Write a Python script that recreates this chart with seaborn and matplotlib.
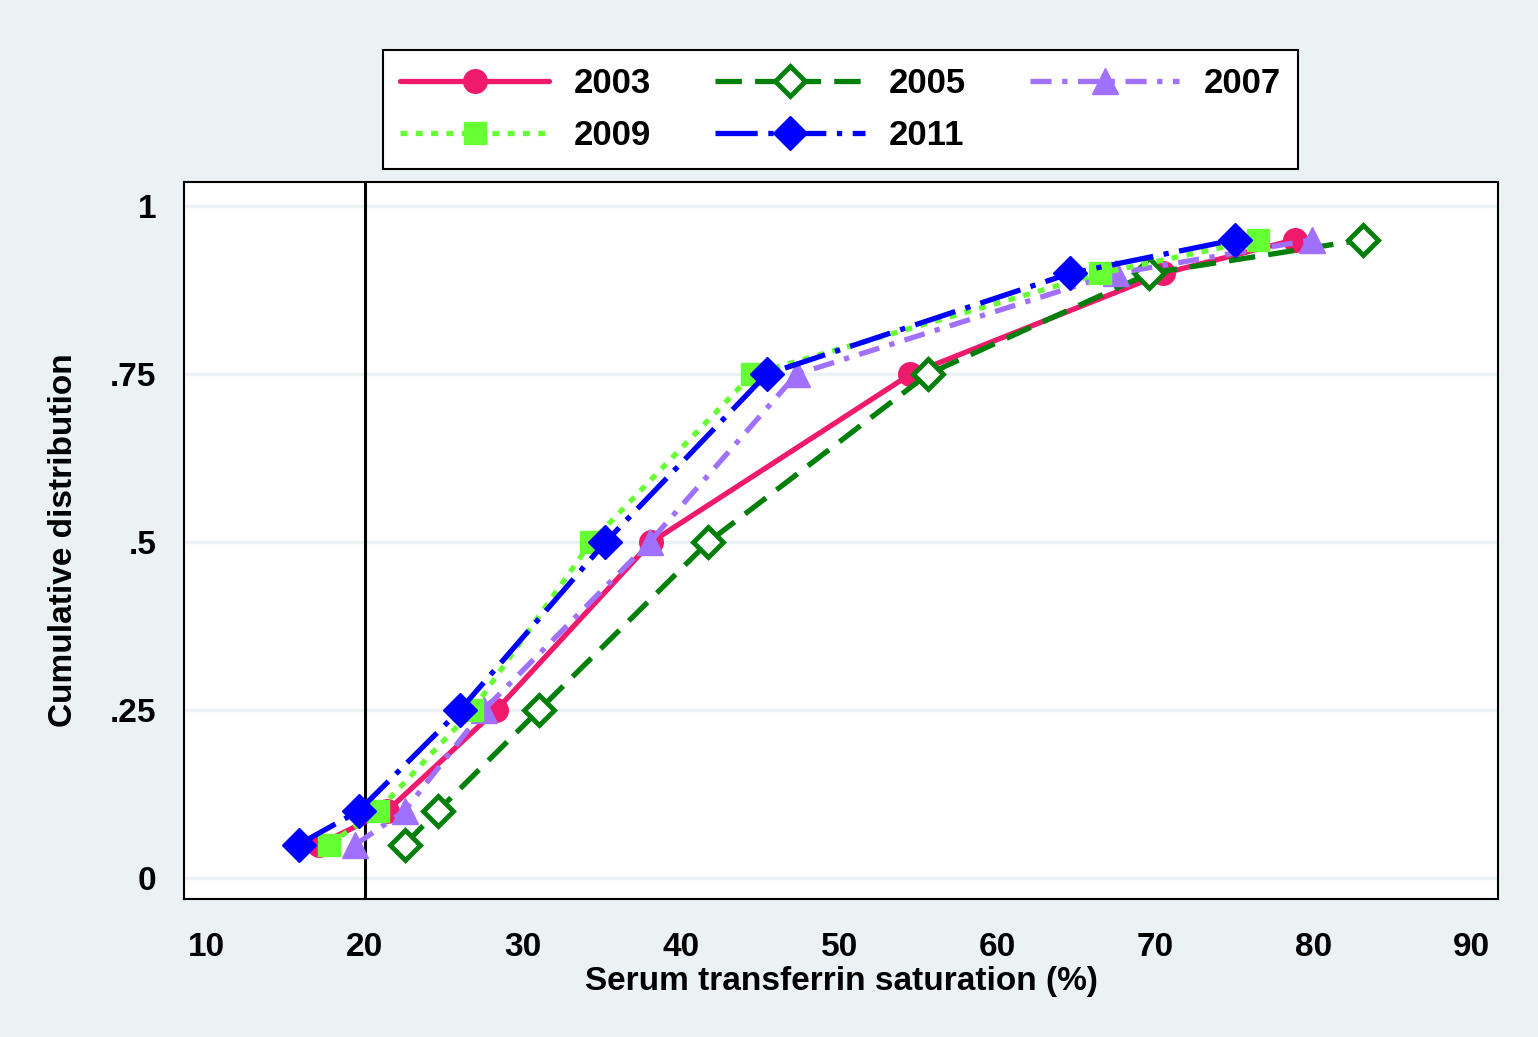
import matplotlib
matplotlib.use("Agg")
import matplotlib.pyplot as plt
import pandas as pd
import seaborn as sns

# quantile levels of the cumulative distribution
probs = [0.05, 0.10, 0.25, 0.50, 0.75, 0.90, 0.95]

# serum transferrin saturation (%) at each level, by survey year
sat_2003 = [17.1, 21.4, 28.3, 38.1, 54.5, 70.5, 78.8]
sat_2005 = [22.5, 24.6, 31.0, 41.7, 55.6, 69.6, 83.1]
sat_2007 = [19.4, 22.5, 27.5, 38.0, 47.3, 67.5, 79.9]
sat_2009 = [17.7, 20.8, 26.8, 34.3, 44.5, 66.5, 76.5]
sat_2011 = [15.8, 19.6, 26.0, 35.2, 45.4, 64.6, 75.0]

years = ["2003", "2005", "2007", "2009", "2011"]
series = [sat_2003, sat_2005, sat_2007, sat_2009, sat_2011]

styles = {
    "2003": dict(color="#F01A6C", marker="o", ms=17, dashes=(None, None), mfc="#F01A6C"),
    "2005": dict(color="#00800A", marker="D", ms=15, dashes=(5, 2.5), mfc="white", mew=3.5),
    "2007": dict(color="#A070FF", marker="^", ms=19, dashes=(4, 2, 1, 2), mfc="#A070FF"),
    "2009": dict(color="#66FF33", marker="s", ms=16, dashes=(1.3, 1.6), mfc="#66FF33"),
    "2011": dict(color="#0000FF", marker="D", ms=17, dashes=(8, 2, 1, 2), mfc="#0000FF"),
}

df = pd.concat(
    [pd.DataFrame({"year": y, "sat": s, "p": probs}) for y, s in zip(years, series)],
    ignore_index=True,
)

sns.set_style("white")
plt.rcParams["font.family"] = ["Liberation Sans Narrow", "Liberation Sans", "DejaVu Sans"]
plt.rcParams["font.weight"] = "bold"
for k in ["text.color", "axes.labelcolor", "xtick.color", "ytick.color"]:
    plt.rcParams[k] = "black"

bg = "#EAF2F3"
fig = plt.figure(figsize=(15.38, 10.37), dpi=100, facecolor=bg)
ax = fig.add_axes([0.1196, 0.1331, 0.8544, 0.6914])
ax.set_facecolor("white")

for y in [0, 0.25, 0.5, 0.75, 1]:
    ax.axhline(y, color=bg, lw=2.5, zorder=0)
ax.axvline(20, color="black", lw=2.2, zorder=1)

handles = {}
for yr in years:
    st = styles[yr]
    sub = df[df["year"] == yr]
    sns.lineplot(
        data=sub, x="sat", y="p", sort=False, ax=ax,
        color=st["color"], lw=3.8, marker=st["marker"], markersize=st["ms"],
        markerfacecolor=st["mfc"], markeredgecolor=st["color"],
        markeredgewidth=st.get("mew", 1), label=yr, zorder=3,
    )
    line = ax.get_lines()[-1]
    if st["dashes"][0] is not None:
        line.set_dashes(st["dashes"])
    handles[yr] = line

ax.legend_.remove()

ax.set_xlim(8.55, 91.66)
ax.set_ylim(-0.031, 1.036)
ax.set_xticks(range(10, 91, 10))
ax.set_yticks([0, 0.25, 0.5, 0.75, 1])
ax.set_yticklabels(["0", ".25", ".5", ".75", "1"])
ax.tick_params(axis="x", direction="out", length=12, width=1.5, labelsize=24, pad=12)
ax.tick_params(axis="y", direction="out", length=14, width=1.5, labelsize=24, pad=6)
for lab in ax.get_xticklabels() + ax.get_yticklabels():
    lab.set_fontweight("bold")
for sp in ax.spines.values():
    sp.set_color("black")
    sp.set_linewidth(1.5)

ax.set_xlabel("Serum transferrin saturation (%)", fontsize=24, fontweight="bold", labelpad=2)
ax.set_ylabel("Cumulative distribution", fontsize=24, fontweight="bold", labelpad=22)

order = ["2003", "2009", "2005", "2011", "2007"]
leg = fig.legend(
    [handles[k] for k in order], order, loc="center",
    bbox_to_anchor=(0.5465, 0.8944), ncol=3, fontsize=25,
    handlelength=4.3, handletextpad=0.7, columnspacing=1.85,
    labelspacing=0.55, borderpad=0.5, frameon=True, fancybox=False,
    edgecolor="black", facecolor="white", framealpha=1,
)
leg.get_frame().set_linewidth(1.5)
for t in leg.get_texts():
    t.set_fontweight("bold")

fig.savefig("out.png", dpi=100, facecolor=bg)
